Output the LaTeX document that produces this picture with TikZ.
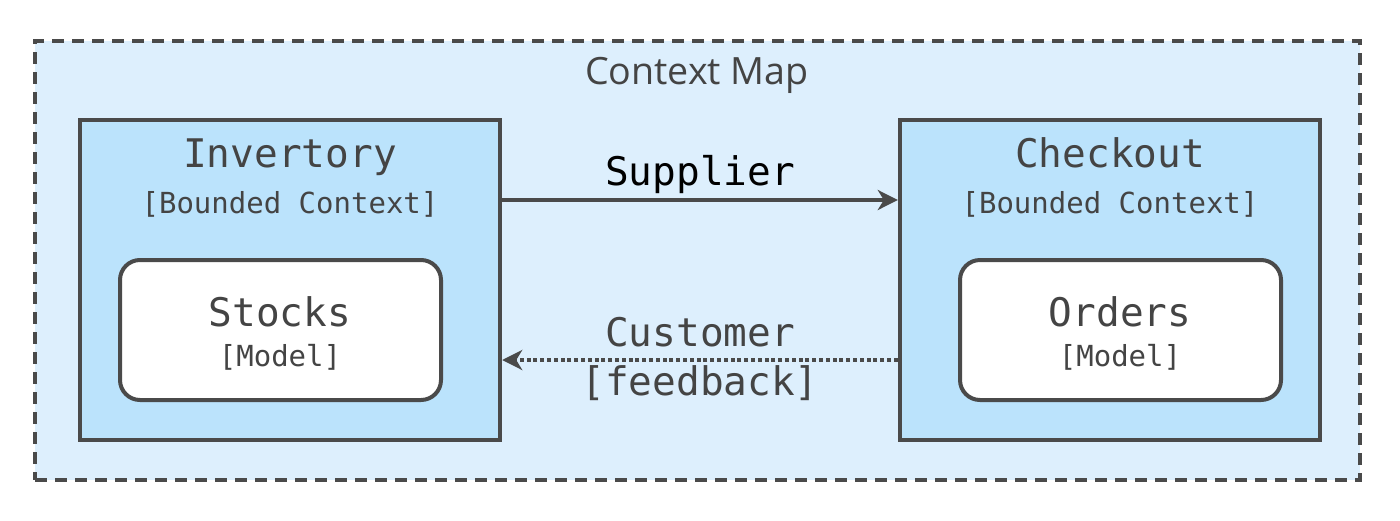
\documentclass[tikz,border=0pt]{standalone}
\usepackage{fontspec}
\setmainfont{Open Sans}
\setmonofont{DejaVu Sans Mono}
\usetikzlibrary{arrows.meta,positioning}
\definecolor{mapfill}{HTML}{DDEFFD}
\definecolor{ctxfill}{HTML}{BBE3FC}
\definecolor{edgegray}{HTML}{4A4A4A}
\definecolor{textgray}{HTML}{444444}
\newcommand{\bigmono}{\ttfamily\fontsize{19.7}{24}\selectfont}
\newcommand{\smallmono}{\ttfamily\fontsize{14.5}{18}\selectfont}
\tikzset{
    %Define standard arrow tip
    >={Stealth[length=10pt,width=10pt,inset=3pt]},
    %Define style for boxes
    mapbox/.style={
           rectangle,
           draw=edgegray, line width=2pt,
           dash pattern=on 6pt off 4pt,
           fill=mapfill,
           minimum width=662.5pt,
           minimum height=219.5pt,
           inner sep=0pt},
    ctxbox/.style={
           rectangle,
           draw=edgegray, line width=2.2pt,
           fill=ctxfill,
           minimum width=210pt,
           minimum height=160pt,
           inner sep=0pt},
    modelbox/.style={
           rectangle,
           rounded corners=10pt,
           draw=edgegray, line width=2pt,
           fill=white,
           minimum width=160.5pt,
           minimum height=70pt,
           inner sep=0pt},
    bigtext/.style={
           anchor=base,
           inner sep=0pt,
           text=textgray,
           font=\bigmono},
    smalltext/.style={
           anchor=base,
           inner sep=0pt,
           text=textgray,
           font=\smallmono},
    % Define arrow style
    arr/.style={
           ->,
           line width=1.75pt,
           draw=edgegray},
    dotarr/.style={
           ->,
           line width=2pt,
           draw=edgegray,
           dash pattern=on 2pt off 1.4pt}
}
\begin{document}
\begin{tikzpicture}[x=0.5pt,y=-0.5pt]
  \useasboundingbox (0,0) rectangle (1400,520);

  \node[mapbox] (map) at (697.5,260.5) {};
  \node[anchor=base, inner sep=0pt, text=textgray, font=\fontsize{18.8}{22}\selectfont] (map-title) at (697,84) {Context Map};

  \node[ctxbox] (inventory) at (290,280) {};
  \node[bigtext] (inventory-name) at (290,167) {Invertory};
  \node[smalltext] (inventory-kind) at (290,213) {[Bounded Context]};
  \node[modelbox] (stocks) at (280.5,330) {};
  \node[bigtext] (stocks-name) at (280,326) {Stocks};
  \node[smalltext] (stocks-kind) at (280,366) {[Model]};

  \node[ctxbox] (checkout) at (1110,280) {};
  \node[bigtext] (checkout-name) at (1110,167) {Checkout};
  \node[smalltext] (checkout-kind) at (1110,213) {[Bounded Context]};
  \node[modelbox] (orders) at (1120.5,330) {};
  \node[bigtext] (orders-name) at (1120,326) {Orders};
  \node[smalltext] (orders-kind) at (1120,366) {[Model]};

  \draw[arr] ([yshift=40pt]inventory.east) -- ([yshift=40pt]checkout.west)
    node[midway, anchor=base, yshift=7.5pt, inner sep=0pt, font=\bigmono, text=black] {Supplier};

  \draw[dotarr] ([yshift=-40pt]checkout.west) -- ([yshift=-40pt]inventory.east)
    node[midway, anchor=base, yshift=7pt, inner sep=0pt, font=\bigmono, text=textgray] {Customer}
    node[midway, anchor=base, yshift=-17.5pt, inner sep=0pt, font=\bigmono, text=textgray] {[feedback]};
\end{tikzpicture}
\end{document}
